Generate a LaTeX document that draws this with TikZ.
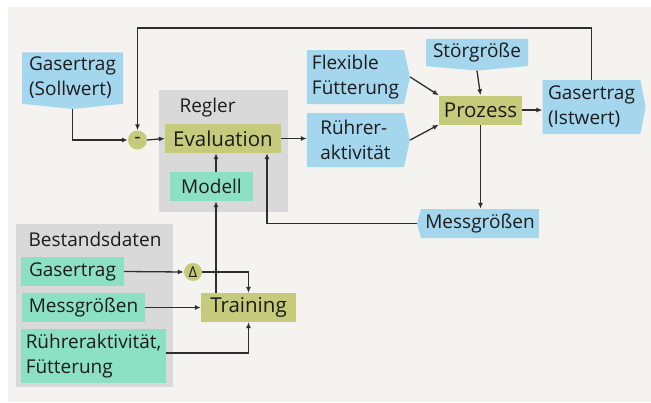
\documentclass[tikz,border=0pt]{standalone}
\usepackage{fontspec}
\setmainfont{Open Sans}
\usetikzlibrary{arrows.meta,shapes.symbols}
\definecolor{hblau}{HTML}{A4D7EE}
\definecolor{holiv}{HTML}{C5CB7B}
\definecolor{hmint}{HTML}{8CE1C4}
\definecolor{hgrau}{HTML}{D9D9D9}
\definecolor{hgrund}{HTML}{F4F3EF}
\definecolor{hlinie}{HTML}{2E2E2E}
\definecolor{htext}{HTML}{1C1C1C}
\begin{document}
\begin{tikzpicture}[>={Latex[length=6pt,width=5pt]},x=1pt,y=-1pt,
		groesse/.style={signal,fill=hblau,text=htext,align=left,inner sep=0pt,font=\fontsize{19}{25}\selectfont},
		daten/.style={rectangle,fill=hmint,text=htext,align=left,inner sep=0pt,font=\fontsize{19}{25}\selectfont},
		block/.style={rectangle,fill=holiv,text=htext,inner sep=0pt,minimum height=29pt,font=\fontsize{20.5}{25}\selectfont},
		punkt/.style={circle,fill=holiv,text=htext,inner sep=0pt,minimum size=19pt},
		pfeil/.style={->,draw=hlinie,line width=1.3pt}]
			\useasboundingbox (0,0) rectangle (651,402);
			\fill[hgrund] (8,7) rectangle (651,402);
			% Regler und Bestandsdaten
			\fill[hgrau] (159,90) rectangle (288,212);
			\fill[hgrau] (16,224) rectangle (173,387);
			\node[anchor=base west,text=htext,font=\fontsize{19}{25}\selectfont] (regler) at (176,112) {Regler};
			\node[anchor=base west,text=htext,font=\fontsize{19}{25}\selectfont] (bestand) at (25,246) {Bestandsdaten};
			% Groessen
			\node[groesse,signal to=south,signal pointer angle=168,minimum width=101pt,minimum height=56pt] (soll) at (72.5,78) {Gasertrag\\(Sollwert)};
			\node[groesse,signal to=east,signal pointer angle=155,minimum width=103pt,minimum height=54pt] (flex) at (355.5,77) {Flexible\\Fütterung};
			\node[groesse,signal to=east,signal pointer angle=155,minimum width=103pt,minimum height=54pt] (ruehr) at (355.5,140) {Rührer-\\aktivität};
			\node[groesse,signal to=south,signal pointer angle=170,minimum width=102pt,minimum height=31pt] (stoer) at (477,52.5) {Störgröße};
			\node[groesse,signal to=east,signal pointer angle=158,minimum width=103pt,minimum height=54pt] (ist) at (591.5,107) {Gasertrag\\(Istwert)};
			\node[groesse,signal to=west,signal pointer angle=149,minimum width=122pt,minimum height=29pt] (messR) at (480,223.5) {Messgrößen};
			% Bloecke
			\node[block,minimum width=83pt] (prozess) at (480.5,110) {Prozess};
			\node[block,minimum width=116pt] (eval) at (223,138.5) {Evaluation};
			\node[block,minimum width=95pt] (training) at (248.5,307.5) {Training};
			\node[daten,minimum width=83pt,minimum height=29pt] (modell) at (211.5,186.5) {Modell};
			\node[daten,minimum width=103pt,minimum height=29pt] (gas) at (72.5,271.5) {Gasertrag};
			\node[daten,minimum width=123pt,minimum height=29pt] (messL) at (83.5,307.5) {Messgrößen};
			\node[daten,minimum width=145pt,minimum height=54pt] (ruehrL) at (93.5,356) {Rühreraktivität,\\Fütterung};
			\node[punkt,font=\fontsize{20}{20}\selectfont] (minus) at (137.5,140) {-};
			\node[punkt,minimum size=18pt,font=\fontsize{15}{15}\selectfont] (delta) at (193,272) {Δ};
			\coordinate (rueck) at (365,28);
			% Verbindungen
			\draw[pfeil] (soll.south) |- (minus.west);
			\draw[pfeil] (ist.north) |- (rueck) -| (minus.north);
			\draw[pfeil] (minus.east) -- (eval.west);
			\draw[pfeil] (eval.east) -- (eval.east -| ruehr.west);
			\draw[pfeil] (flex.east) -- (prozess.north west);
			\draw[pfeil] (ruehr.east) -- (prozess.south west);
			\draw[pfeil] (stoer.south) -- (prozess.north);
			\draw[pfeil] (prozess.east) -- (prozess.east -| ist.west);
			\draw[pfeil] (prozess.south) -- (prozess.south |- messR.north);
			\draw[pfeil] (messR.west) -| ([xshift=44pt]eval.south);
			\draw[pfeil] ([xshift=4.5pt]modell.north) -- ([xshift=4.5pt]modell.north |- eval.south);
			\draw[pfeil] ([xshift=-32.5pt]training.north) -- ([xshift=-32.5pt]training.north |- modell.south);
			\draw[pfeil] (gas.east) -- (delta.west);
			\draw[pfeil] (delta.east) -| (training.north);
			\draw[pfeil] (messL.east) -- (training.west);
			\draw[pfeil] ([yshift=3pt]ruehrL.east) -| (training.south);
\end{tikzpicture}
\end{document}
